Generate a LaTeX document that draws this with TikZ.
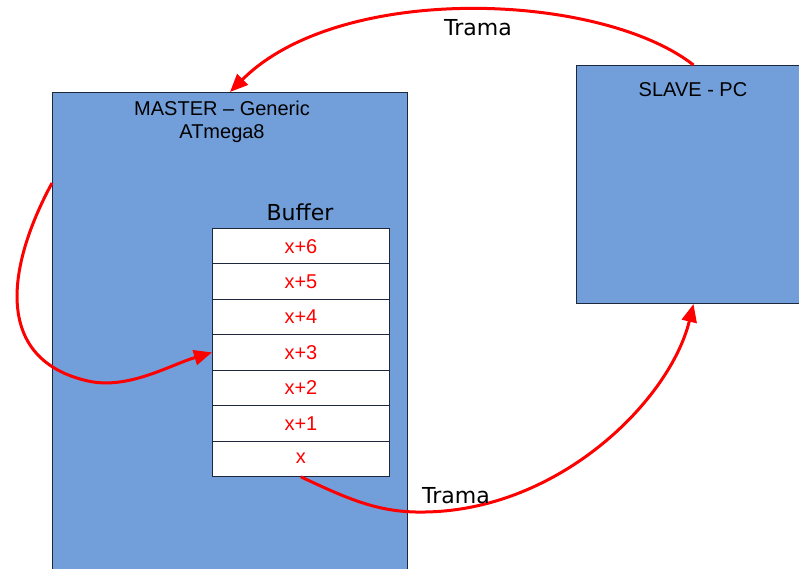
\documentclass[tikz,border=0pt]{standalone}
\usepackage{fontspec}
\setmainfont{Liberation Sans}
\newfontfamily\labelfont{DejaVu Sans}
\usetikzlibrary{arrows.meta}
\definecolor{boxblue}{RGB}{114,159,218}
\definecolor{boxedge}{RGB}{30,40,60}
\tikzset{
  unit/.style={draw=boxedge, line width=1pt, fill=boxblue, inner sep=0pt, anchor=north west},
  cell/.style={draw=boxedge, line width=0.8pt, fill=white, inner sep=0pt,
               minimum width=177pt, minimum height=35.43pt, anchor=north west,
               text=red, font=\fontsize{20}{24}\selectfont},
  title/.style={font=\fontsize{20}{23}\selectfont, align=center, inner sep=0pt},
  big/.style={font=\labelfont\fontsize{22}{26}\selectfont, inner sep=0pt},
  flow/.style={draw=red, line width=3pt, -{Triangle[length=18pt,width=15pt]}},
}
\begin{document}
\begin{tikzpicture}[x=1pt,y=-1pt]
\useasboundingbox (0,0) rectangle (799,569);
\clip (0,0) rectangle (799,569);
\fill[white] (0,0) rectangle (799,569);

% the two devices
\node[unit, minimum width=355pt, minimum height=520pt] (master) at (52,92) {};
\node[unit, minimum width=234pt, minimum height=238pt] (slave) at (576,65) {};
\node[title] (mtitle) at (222,122) {MASTER -- Generic\\ATmega8};
\node[title] (stitle) at (693,90) {SLAVE - PC};

% the buffer
\node[big] (buflabel) at (300,212) {Buffer};
\foreach \i/\t in {0/x+6,1/x+5,2/x+4,3/x+3,4/x+2,5/x+1,6/x}
  \node[cell] (c\i) at (212,{228+\i*35.43}) {\t};

% frames travelling between the devices
\coordinate (mside) at (52,183);
\draw[flow] (slave.north) .. controls (600,-8) and (340,-18) .. (master.north);
\node[big] (ttop) at (478,28) {Trama};
\draw[flow] (mside) .. controls (5,270) and (-5,360) .. (88,381)
  .. controls (128,390) and (170,365) .. (c3.west);
\draw[flow] (c6.south) .. controls (350,500) and (380,513) .. (425,512)
  .. controls (560,510) and (670,400) .. (slave.south);
\node[big] (tbot) at (456,496) {Trama};
\end{tikzpicture}
\end{document}
